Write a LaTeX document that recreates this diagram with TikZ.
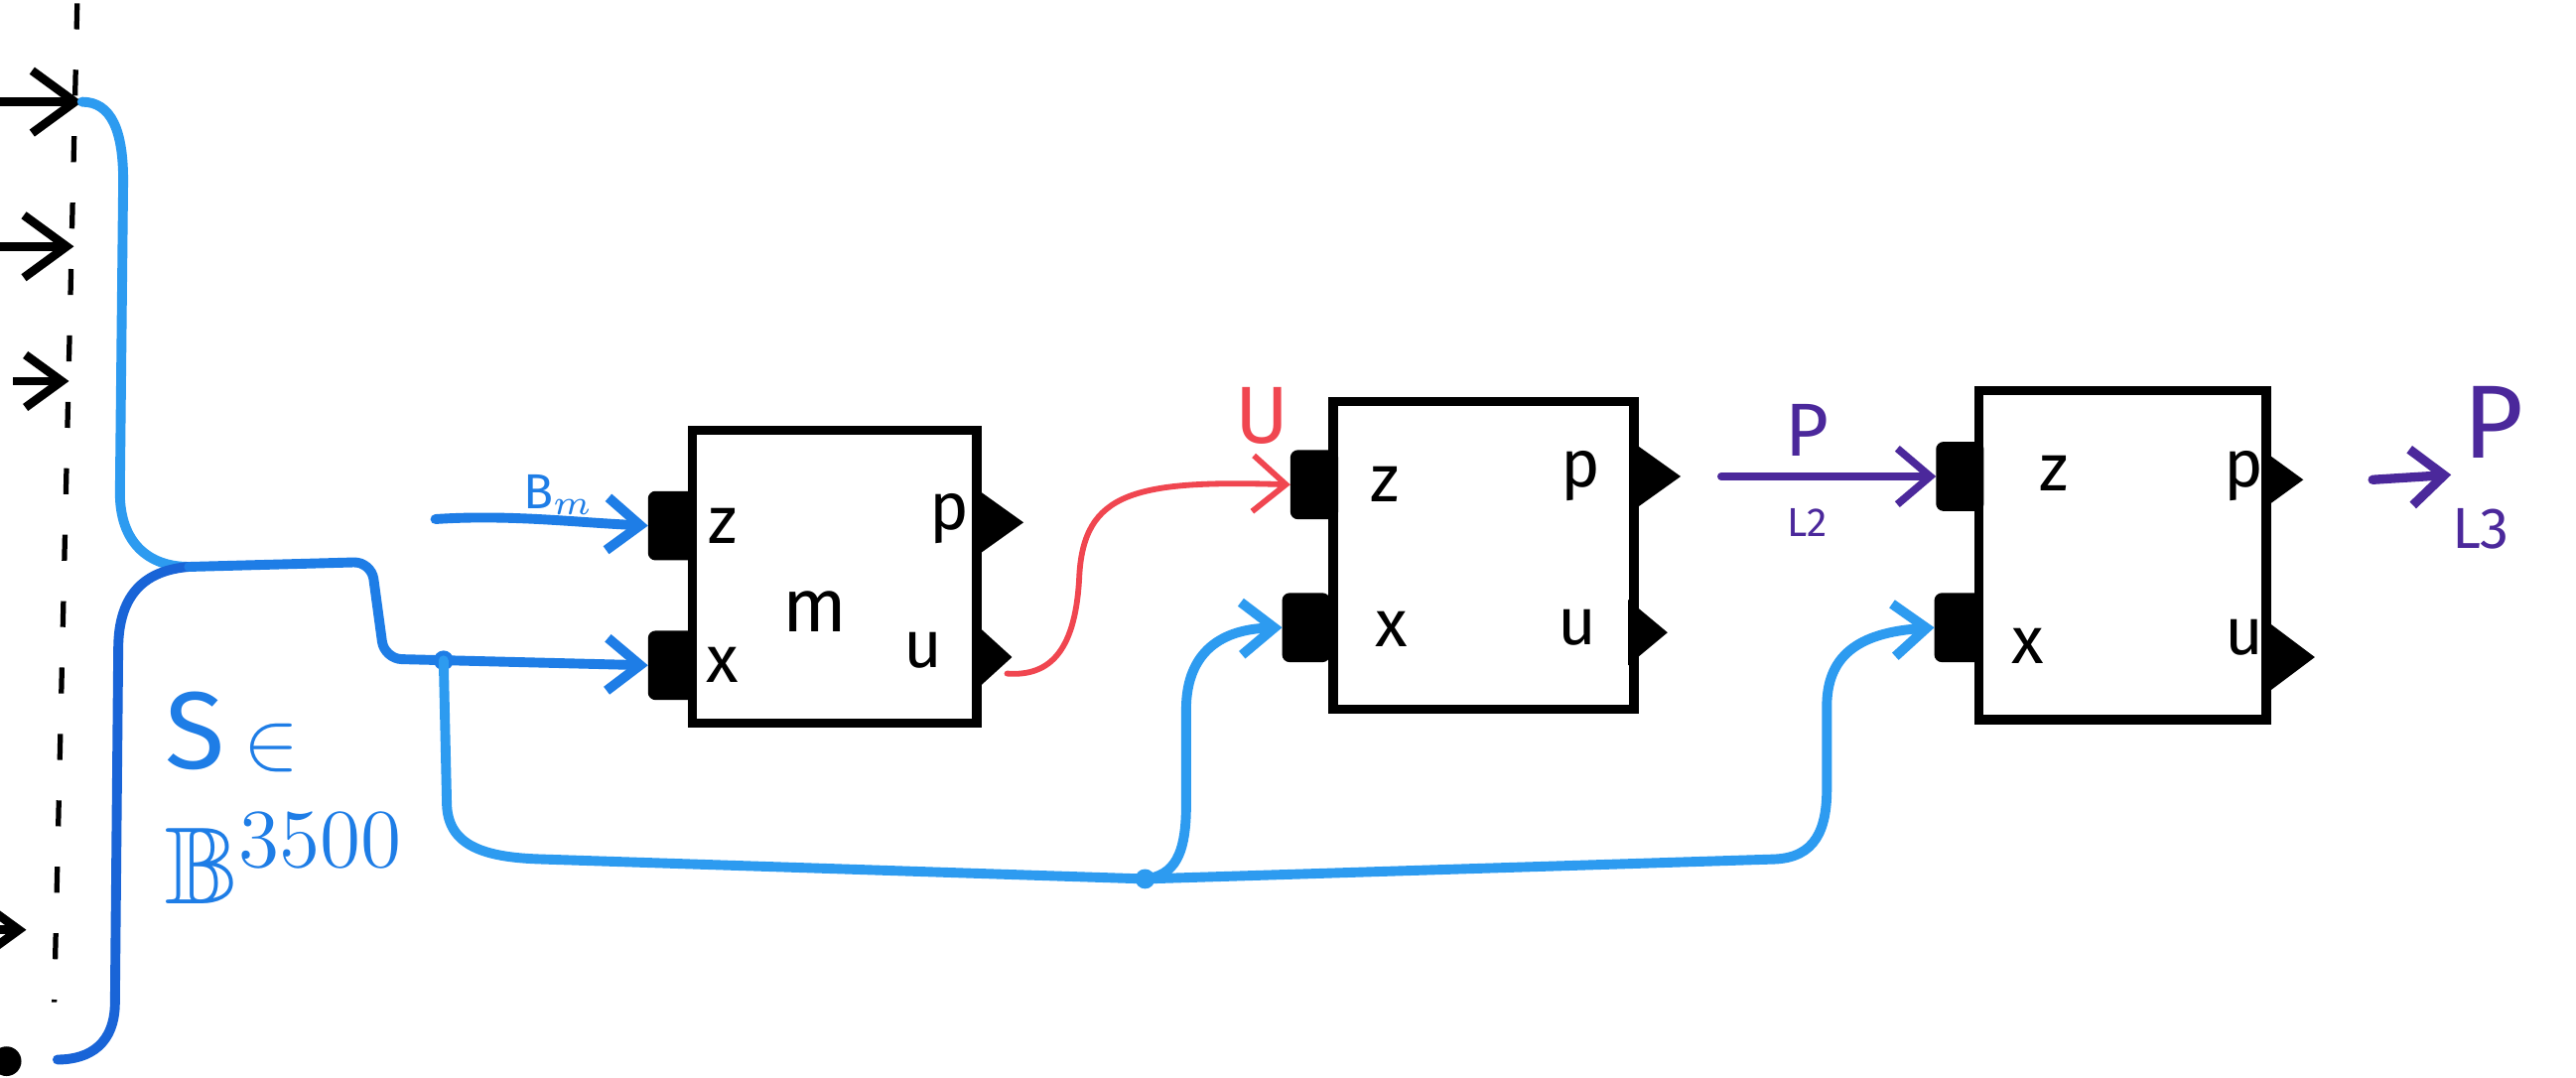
\documentclass[tikz,border=0pt]{standalone}
\usepackage{fontspec}
\usepackage{amssymb}
\setmainfont{Fira Sans}
\usetikzlibrary{arrows.meta,shapes.geometric}
\definecolor{bluemain}{RGB}{30,125,230}
\definecolor{bluedark}{RGB}{25,100,215}
\definecolor{bluelight}{RGB}{45,155,240}
\definecolor{redline}{RGB}{240,70,80}
\definecolor{purpleline}{RGB}{75,40,155}
\tikzset{
  block/.style={draw=black,line width=1.6pt,fill=white,inner sep=0pt},
  inport/.style={fill=black,draw=black,line width=0.6pt,rounded corners=1pt,minimum width=0.27cm,minimum height=0.4cm,inner sep=0pt},
  outport/.style={fill=black,isosceles triangle,isosceles triangle stretches,shape border rotate=0,minimum height=0.28cm,minimum width=0.4cm,inner sep=0pt,outer sep=0pt},
  plabel/.style={font=\fontsize{11.5}{13}\selectfont,inner sep=0pt},
  barb/.style={-{Straight Barb[length=2mm,width=3.2mm]}},
  bluewire/.style={line width=1.7pt,line cap=round,line join=round},
}
\begin{document}
\begin{tikzpicture}[x=0.01cm,y=-0.01cm]
\useasboundingbox (0,0) rectangle (1568,656);
\clip (0,0) rectangle (1568,656);
\fill[white] (0,0) rectangle (1568,656);

% left dashed line and black arrows
\draw[line width=0.9pt,dash pattern=on 4.5pt off 7pt] (47,2) -- (33,610);
\coordinate (a1s) at (0,62);  \coordinate (a1e) at (50,62);
\coordinate (a2s) at (0,150); \coordinate (a2e) at (45,150);
\coordinate (a3s) at (8,232); \coordinate (a3e) at (42,232);
\coordinate (a4s) at (-10,566); \coordinate (a4e) at (16,566);
\draw[line width=1.5pt,-{Straight Barb[length=2.6mm,width=3.8mm]}] (a1s) -- (a1e);
\draw[line width=1.5pt,-{Straight Barb[length=2.6mm,width=3.8mm]}] (a2s) -- (a2e);
\draw[line width=1.5pt,-{Straight Barb[length=2.2mm,width=3.2mm]}] (a3s) -- (a3e);
\draw[line width=1.5pt,-{Straight Barb[length=2.2mm,width=3.2mm]}] (a4s) -- (a4e);
\fill (4,646) circle (9);

% blocks
\node[block,minimum width=1.73cm,minimum height=1.78cm] (b1) at (508,351) {};
\node[block,minimum width=1.83cm,minimum height=1.87cm] (b2) at (903,338) {};
\node[block,minimum width=1.75cm,minimum height=2.0cm] (b3) at (1292,338) {};

% ports
\node[inport] (b1z) at (409,320) {};
\node[inport] (b1x) at (409,405) {};
\node[outport,anchor=west] (b1p) at (595,318) {};
\node[outport,anchor=west,minimum height=0.22cm] (b1u) at (594,400) {};
\node[inport] (b2z) at (800,295) {};
\node[inport] (b2x) at (795,382) {};
\node[outport,anchor=west] (b2p) at (995,290) {};
\node[outport,anchor=west,minimum height=0.24cm] (b2u) at (991,385) {};
\node[inport] (b3z) at (1193,290) {};
\node[inport] (b3x) at (1192,382) {};
\node[outport,anchor=west,minimum height=0.22cm,minimum width=0.32cm] (b3p) at (1380,292) {};
\node[outport,anchor=west,minimum height=0.3cm,minimum width=0.45cm] (b3u) at (1379,400) {};

% port labels
\node[plabel] (l1z) at (440,320) {z};
\node[plabel] (l1x) at (440,405) {x};
\node[plabel] (l1p) at (578,316) {p};
\node[plabel] (l1u) at (562,396) {u};
\node[plabel,font=\fontsize{13}{15}\selectfont] (l1m) at (496,372) {m};
\node[plabel] (l2z) at (843,295) {z};
\node[plabel] (l2x) at (847,383) {x};
\node[plabel] (l2p) at (962,290) {p};
\node[plabel] (l2u) at (960,382) {u};
\node[plabel] (l3z) at (1250,288) {z};
\node[plabel] (l3x) at (1234,393) {x};
\node[plabel] (l3p) at (1366,290) {p};
\node[plabel] (l3u) at (1366,388) {u};

% blue brace
\coordinate (jtop) at (115,345);
\draw[bluewire,bluelight] (a1e) .. controls (68,62) and (75,80) .. (75,110) -- (73,300) .. controls (73,330) and (90,345) .. (jtop);
\draw[bluewire,bluedark] (jtop) .. controls (90,347) and (72,360) .. (72,395) -- (70,610) .. controls (70,635) and (55,645) .. (35,645);

% main blue bus to block 1 x
\coordinate (j1) at (270,402);
\draw[bluewire,bluemain,barb,rounded corners=3pt] (jtop) -- (226,342) -- (234,401) -- (b1x.west);
\fill[bluemain] (j1) circle (6);

% B_m input
\coordinate (bms) at (265,316);
\draw[bluewire,bluemain,barb] (bms) .. controls (310,313) and (350,318) .. (b1z.west);
\node[text=bluemain,font=\fontsize{8.5}{10}\selectfont,inner sep=0pt] (bmlab) at (340,301) {B$_m$};

% lower bus
\coordinate (j2) at (697,535);
\draw[bluewire,bluelight] (j1) -- (272,490) .. controls (273,515) and (295,522) .. (330,523) -- (j2);
\draw[bluewire,bluelight,barb] (j2) .. controls (715,533) and (722,520) .. (722,490) -- (722,432) .. controls (722,400) and (740,383) .. (b2x.west);
\draw[bluewire,bluelight,barb] (j2) -- (1080,523) .. controls (1105,522) and (1112,505) .. (1112,480) -- (1112,430) .. controls (1112,400) and (1130,385) .. (b3x.west);
\fill[bluelight] (j2) circle (6);

% red U connection
\coordinate (rs) at (613,410);
\draw[line width=1pt,redline,-{Straight Barb[length=2mm,width=3.4mm]},line cap=round] (rs) .. controls (640,412) and (655,395) .. (657,350) .. controls (660,300) and (690,292) .. (b2z.west);
\node[text=redline,font=\fontsize{14}{16}\selectfont,inner sep=0pt] (ulab) at (768,253) {U};

% purple connections
\coordinate (p2s) at ([xshift=7]b2p.east);
\draw[line width=1.3pt,purpleline,-{Straight Barb[length=2mm,width=3.4mm]},line cap=round] (p2s) -- (b3z.west);
\node[text=purpleline,font=\fontsize{13}{15}\selectfont,inner sep=0pt] (pl2) at (1100,262) {P};
\node[text=purpleline,font=\fontsize{7}{8}\selectfont,inner sep=0pt] (pl2s) at (1100,318) {L2};
\coordinate (p3s) at ([xshift=12]b3p.east);
\coordinate (p3e) at (1492,289);
\draw[line width=1.6pt,purpleline,-{Straight Barb[length=2mm,width=3.4mm]},line cap=round] (p3s) -- (p3e);
\node[text=purpleline,font=\fontsize{18}{20}\selectfont,inner sep=0pt] (pl3) at (1518,257) {P};
\node[text=purpleline,font=\fontsize{10}{12}\selectfont,inner sep=0pt] (pl3s) at (1510,322) {L3};

% S label
\node[text=bluemain,font=\fontsize{19}{22}\selectfont,inner sep=0pt,anchor=base west] (slab) at (100,468) {S\,{\fontsize{15}{17}\selectfont$\in$}};
\node[text=bluemain,font=\fontsize{19}{22}\selectfont,inner sep=0pt,anchor=base west] (blab) at (100,550) {$\mathbb{B}^{\scriptstyle 3500}$};
\end{tikzpicture}
\end{document}
